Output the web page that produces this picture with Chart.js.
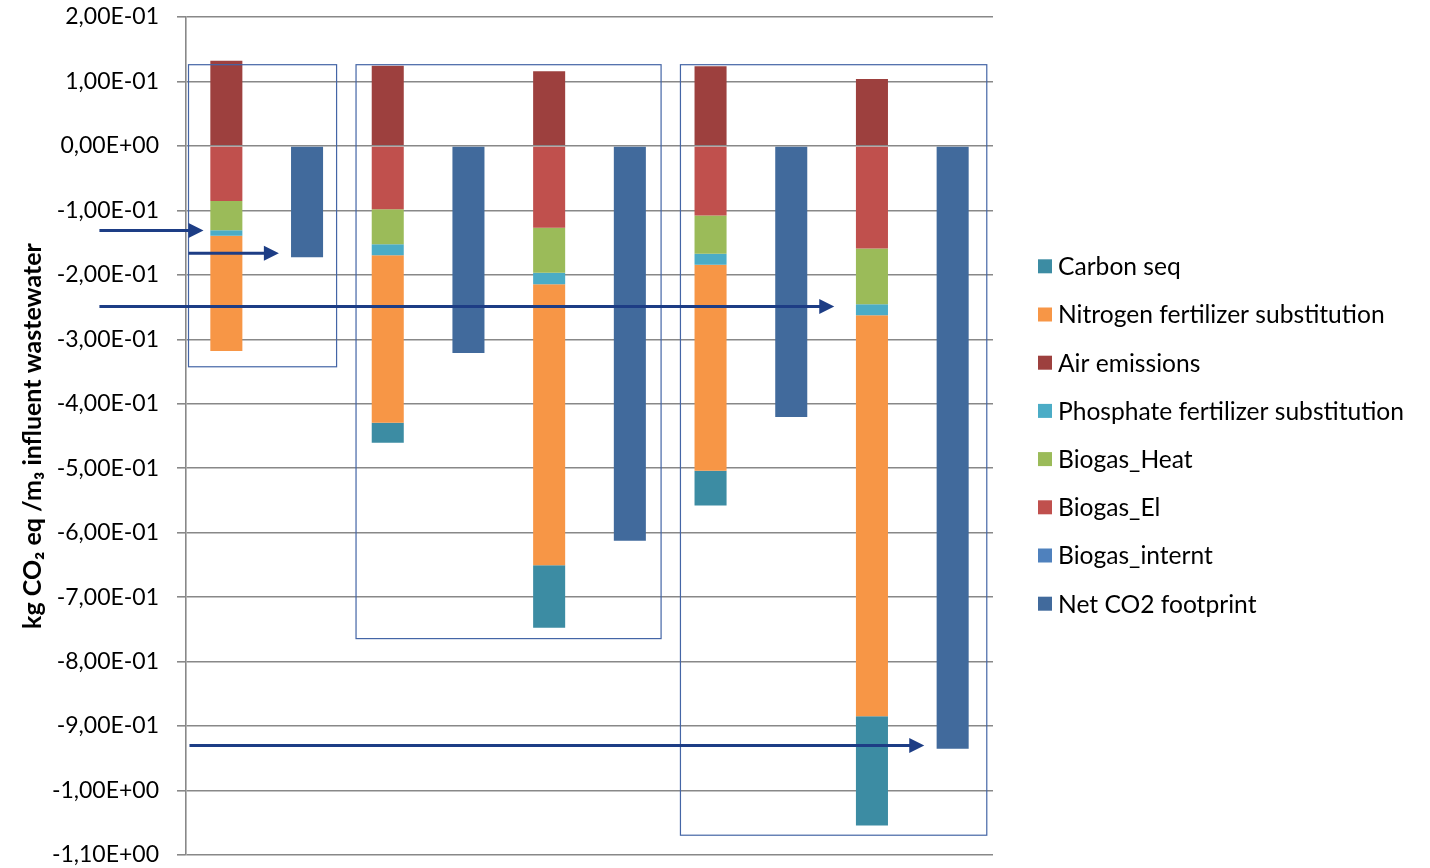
<!DOCTYPE html>
<html>
<head>
<meta charset="utf-8">
<script src="https://cdn.jsdelivr.net/npm/chart.js@4/dist/chart.umd.min.js"></script>
<style>
  html, body { margin: 0; padding: 0; background: #fff; }
  #wrap { width: 1430px; height: 868px; }
</style>
</head>
<body>
<div id="wrap"><canvas id="chart"></canvas></div>
<script>
const categories = ["", "", "", "", "", "", "", "", "", ""];

const carbonSeq   = [0, 0, -0.031, 0, -0.0966, 0, -0.0538, 0, -0.1695, 0];
const nitrogen    = [-0.1788, 0, -0.260, 0, -0.4363, 0, -0.3194, 0, -0.6223, 0];
const airEmission = [0.132, 0, 0.1245, 0, 0.1158, 0, 0.1236, 0, 0.1039, 0];
const phosphate   = [-0.0088, 0, -0.0171, 0, -0.0175, 0, -0.0171, 0, -0.017, 0];
const biogasHeat  = [-0.0454, 0, -0.0542, 0, -0.0698, 0, -0.0594, 0, -0.0863, 0];
const biogasEl    = [-0.0853, 0, -0.0982, 0, -0.1271, 0, -0.1080, 0, -0.1592, 0];
const biogasInt   = [0, 0, 0, 0, 0, 0, 0, 0, 0, 0];
const netCO2      = [0, -0.1726, 0, -0.3214, 0, -0.6124, 0, -0.4207, 0, -0.9353];

// boxes and arrows, x in category index units, y in axis units
const groupBoxes = [
  { x0: -0.469, x1: 1.366, y0: 0.126, y1: -0.3426 },
  { x0: 1.607, x1: 5.387, y0: 0.126, y1: -0.7643 },
  { x0: 5.627, x1: 9.423, y0: 0.126, y1: -1.0693 },
];
const arrows = [
  { x0: -1.573, x1: -0.283, y: -0.1313 },
  { x0: -0.469, x1: 0.651, y: -0.1664 },
  { x0: -1.573, x1: 7.533, y: -0.2491 },
  { x0: -0.457, x1: 8.648, y: -0.9302 },
];

const FONT = "Lato, 'Noto Sans', sans-serif";

function sciLabel(v) {
  if (Math.abs(v) < 1e-9) return "0,00E+00";
  let e = Math.floor(Math.log10(Math.abs(v)) + 1e-9);
  let ms = (v / Math.pow(10, e)).toFixed(2);
  if (Math.abs(parseFloat(ms)) >= 10) { e += 1; ms = (v / Math.pow(10, e)).toFixed(2); }
  const es = (e < 0 ? "-" : "+") + String(Math.abs(e)).padStart(2, "0");
  return ms.replace(".", ",") + "E" + es;
}

const overlays = {
  id: "overlays",
  afterDatasetsDraw(chart) {
    const { ctx, scales: { x, y } } = chart;
    ctx.save();
    ctx.strokeStyle = "#4465a6";
    ctx.lineWidth = 1.2;
    for (const b of groupBoxes) {
      const l = x.getPixelForValue(b.x0), r = x.getPixelForValue(b.x1);
      const t = y.getPixelForValue(b.y0), btm = y.getPixelForValue(b.y1);
      ctx.strokeRect(l, t, r - l, btm - t);
    }
    ctx.strokeStyle = "#1d3d85";
    ctx.fillStyle = "#1d3d85";
    ctx.lineWidth = 3;
    for (const a of arrows) {
      const px0 = x.getPixelForValue(a.x0), px1 = x.getPixelForValue(a.x1);
      const py = y.getPixelForValue(a.y);
      ctx.beginPath();
      ctx.moveTo(px0, py);
      ctx.lineTo(px1 - 12, py);
      ctx.stroke();
      ctx.beginPath();
      ctx.moveTo(px1, py);
      ctx.lineTo(px1 - 15, py - 7.5);
      ctx.lineTo(px1 - 15, py + 7.5);
      ctx.closePath();
      ctx.fill();
    }
    ctx.restore();
  },
  afterDraw(chart) {
    // legend to the right of the plot, in dataset order
    const { ctx, chartArea } = chart;
    const left = chartArea.right + 45;
    const step = 48.2;
    const items = chart.data.datasets;
    const y0 = (chartArea.top + chartArea.bottom) / 2 - step * (items.length - 1) / 2 - 1;
    ctx.save();
    ctx.font = "24.6px " + FONT;
    ctx.textBaseline = "middle";
    items.forEach((d, i) => {
      const cy = y0 + i * step;
      ctx.fillStyle = d.backgroundColor;
      ctx.fillRect(left, cy - 7, 14, 14);
      ctx.fillStyle = "#000";
      ctx.fillText(d.label, left + 20, cy + 1);
    });
    ctx.restore();
  },
};

function ds(label, data, color, order) {
  return {
    label, data, order,
    backgroundColor: color,
    borderWidth: 0,
    barPercentage: 0.397,
    categoryPercentage: 1,
  };
}

new Chart(document.getElementById("chart"), {
  type: "bar",
  data: {
    labels: categories,
    datasets: [
      ds("Carbon seq", carbonSeq, "#3c8ca3", 5),
      ds("Nitrogen fertilizer substitution", nitrogen, "#f79646", 4),
      ds("Air emissions", airEmission, "#9d403e", 0),
      ds("Phosphate fertilizer substitution", phosphate, "#4bacc6", 3),
      ds("Biogas_Heat", biogasHeat, "#9bbb59", 2),
      ds("Biogas_El", biogasEl, "#c0504d", 1),
      ds("Biogas_internt", biogasInt, "#4f81bd", 6),
      ds("Net CO2 footprint", netCO2, "#416a9c", 7),
    ],
  },
  options: {
    responsive: true,
    maintainAspectRatio: false,
    animation: false,
    layout: { padding: { top: 0, right: 437, bottom: 0, left: 0 } },
    plugins: {
      tooltip: { enabled: false },
      legend: { display: false },
    },
    scales: {
      x: {
        stacked: true,
        display: false,
      },
      y: {
        stacked: true,
        min: -1.1,
        max: 0.2,
        afterFit(scale) {
          scale.width = 186;
          scale.paddingTop = 17;
          scale.paddingBottom = 13;
        },
        ticks: {
          stepSize: 0.1,
          padding: 18,
          color: "#000",
          font: { family: FONT, size: 23 },
          callback: (v) => sciLabel(v),
        },
        grid: { color: "#888", lineWidth: 1.6, tickLength: 9 },
        border: { color: "#888", width: 1.6 },
        title: {
          display: true,
          text: "kg CO\u2082 eq /m\u2083 influent wastewater",
          color: "#000",
          font: { family: FONT, size: 25, weight: "bold" },
          padding: { top: 18, bottom: 0 },
        },
      },
    },
  },
  plugins: [overlays],
});
</script>
</body>
</html>
